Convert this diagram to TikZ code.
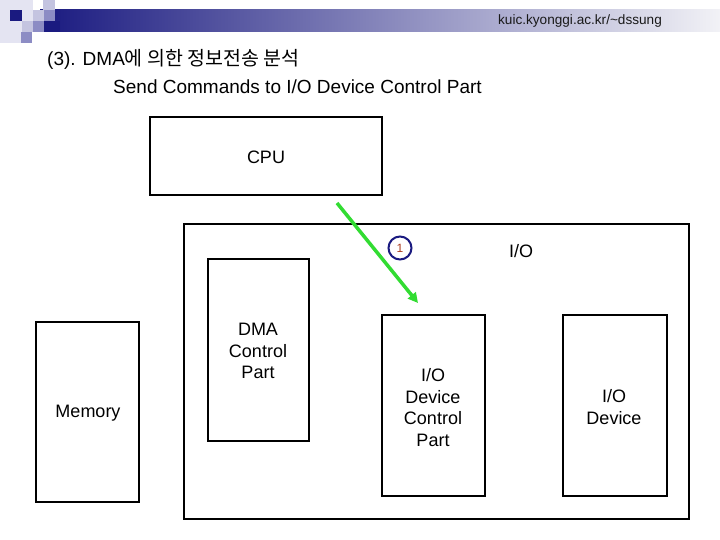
\documentclass[tikz,border=0pt]{standalone}
\usepackage{fontspec}
\setmainfont{Liberation Sans}
\newfontfamily\cjk{Noto Sans CJK KR}
\usetikzlibrary{arrows.meta}
\definecolor{navy}{RGB}{26,26,128}
\definecolor{pale}{RGB}{228,228,242}
\definecolor{lite}{RGB}{196,196,224}
\definecolor{midl}{RGB}{140,140,196}
\definecolor{grn}{RGB}{50,220,50}
\definecolor{numred}{RGB}{170,60,30}
\tikzset{
  box/.style={draw=black, line width=2.4pt, minimum width=#1, inner sep=0pt},
  lbl/.style={font=\fontsize{18}{21.5}\selectfont, align=center, inner sep=0pt},
  ttl/.style={font=\fontsize{19}{22}\selectfont, inner sep=0pt, anchor=west},
}
\begin{document}
\begin{tikzpicture}[x=1pt,y=-1pt]
\useasboundingbox (0,0) rectangle (720,540);
\fill[white] (0,0) rectangle (720,540);
% header band
\shade[left color=navy, right color={rgb,255:red,242;green,242;blue,246}] (40,10) rectangle (720,32);
% decorative squares
\fill[pale] (0,0) rectangle (22,43);
\fill[pale] (22,0) rectangle (33,22);
\fill[lite] (43,0) rectangle (55,10);
\fill[navy] (10,10) rectangle (22,21);
\fill[lite] (33,10) rectangle (44,21);
\fill[midl] (44,10) rectangle (55,21);
\fill[lite] (22,21) rectangle (33,32);
\fill[midl] (33,21) rectangle (44,32);
\fill[navy] (44,21) rectangle (60,32);
\fill[midl] (21,32) rectangle (32,43);
\node[font=\fontsize{13.6}{15}\selectfont, text=black!90, inner sep=0pt] (url) at (580,21) {kuic.kyonggi.ac.kr/\textasciitilde dssung};
% titles
\node[ttl] (title) at (47,59) {(3). DMA{\cjk\fontsize{19.5}{22}\selectfont 에 의한 정보전송 분석}};
\node[ttl] (sub) at (113,87) {Send Commands to I/O Device Control Part};
% boxes
\node[box=232pt, minimum height=78pt] (cpu) at (266,156) {};
\node[lbl] (cput) at (266,157) {CPU};
\node[draw=black, line width=2pt, minimum width=505pt, minimum height=295pt, inner sep=0pt] (io) at (436.5,371.5) {};
\node[lbl, anchor=center] (iot) at (521,251) {I/O};
\node[box=103pt, minimum height=180pt] (mem) at (87.5,412) {};
\node[lbl] (memt) at (88,413) {Memory};
\node[box=101pt, minimum height=182pt] (dma) at (258.5,350) {};
\node[lbl] (dmat) at (258,351) {DMA\\Control\\Part};
\node[box=103pt, minimum height=181pt] (ioc) at (433.5,405.5) {};
\node[lbl] (ioct) at (433,407.5) {I/O\\Device\\Control\\Part};
\node[box=104pt, minimum height=181pt] (iod) at (615,405.5) {};
\node[lbl] (iodt) at (614,407) {I/O\\Device};
% step number
\node[draw=navy, line width=2pt, circle, minimum size=23pt, inner sep=0pt, text=numred, font=\fontsize{12}{13}\selectfont] (n1) at (400,248) {1};
% arrow
\coordinate (a1) at (337,203);
\coordinate (a2) at (418,303);
\draw[grn, line width=3.5pt, -{Triangle[length=10pt,width=10pt]}] (a1) -- (a2);
\end{tikzpicture}
\end{document}
